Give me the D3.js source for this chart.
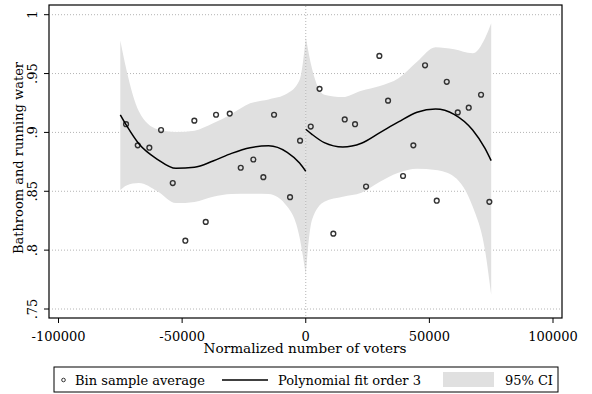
<!DOCTYPE html>
<meta charset="utf-8">
<title>RD plot</title>
<style>
  body { margin: 0; background: #fff; }
  text { font-family: "DejaVu Serif", serif; fill: #000; }
</style>
<svg width="592" height="394"></svg>
<script src="https://d3js.org/d3.v7.min.js"></script>
<script>

// bin averages (x = normalized voters, y = share)
var binX = [-72680, -67950, -63260, -58520, -53790, -48700, -45060, -40450, -36280, -30740,
            -26290, -21190, -17150, -12820, -6350, -2300,
            2020, 5580, 11160, 15770, 19940, 24390, 29770, 33290, 39350, 43520,
            48250, 52980, 57030, 61480, 65920, 70900, 74260];
var binY = [.907, .889, .887, .902, .857, .808, .910, .824, .915, .916,
            .870, .877, .862, .915, .845, .893,
            .905, .937, .814, .911, .907, .854, .965, .927, .863, .889,
            .957, .842, .943, .917, .921, .932, .841];

// fitted polynomial + CI (left of cutoff)
var leftX  = [-75000, -72500, -67500, -60000, -52500, -45000, -37500, -30000, -22500, -15000, -7500, -2500, 0];
var leftFit = [.915, .906, .8904, .8772, .8695, .8704, .8757, .8822, .887, .8887, .8831, .874, .867];
var leftHi = [.978, .953, .918, .9027, .9004, .9015, .9077, .9157, .9247, .928, .933, .9445, .980];
var leftLo = [.851, .855, .857, .850, .840, .841, .8454, .8477, .848, .8477, .837, .811, .779];

// right of cutoff
var rightX  = [0, 2500, 7500, 15000, 22500, 30000, 37500, 45000, 52500, 60000, 67500, 72500, 75000];
var rightFit = [.9027, .8984, .8913, .8876, .8908, .8998, .9089, .9171, .9199, .9154, .9021, .8865, .876];
var rightHi = [.981, .9545, .932, .930, .9354, .9394, .946, .960, .9723, .9706, .9672, .980, .9927];
var rightLo = [.780, .8256, .8411, .8454, .8488, .8581, .8658, .8692, .868, .8624, .837, .800, .762];

var xTicks = [-100000, -50000, 0, 50000, 100000];
var yTicks = [.75, .8, .85, .9, .95, 1];
var yTickLabels = [".75", ".8", ".85", ".9", ".95", "1"];

var svg = d3.select("svg");

var x = d3.scaleLinear().domain([-100000, 100000]).range([58.5, 553]);
var y = d3.scaleLinear().domain([0.75, 1]).range([309, 14.7]);

var plotL = 49, plotR = 562, plotT = 5, plotB = 318;

// grid
svg.append("g").selectAll("line")
  .data(yTicks)
  .enter().append("line")
    .attr("x1", plotL + 3).attr("x2", plotR - 2)
    .attr("y1", function(d) { return y(d); })
    .attr("y2", function(d) { return y(d); })
    .attr("stroke", "#b4b4b4")
    .attr("stroke-width", 1)
    .attr("stroke-dasharray", "1,2");

function seg(xs, fit, hi, lo) {
  var rows = xs.map(function(v, i) { return {x: v, f: fit[i], h: hi[i], l: lo[i]}; });
  var area = d3.area()
    .x(function(d) { return x(d.x); })
    .y0(function(d) { return y(d.l); })
    .y1(function(d) { return y(d.h); })
    .curve(d3.curveMonotoneX);
  svg.append("path")
    .attr("d", area(rows))
    .attr("fill", "#e0e0e0");
  return rows;
}

var leftRows = seg(leftX, leftFit, leftHi, leftLo);
var rightRows = seg(rightX, rightFit, rightHi, rightLo);

// cutoff line
svg.append("line")
  .attr("x1", x(0)).attr("x2", x(0))
  .attr("y1", plotT + 1).attr("y2", plotB)
  .attr("stroke", "#b4b4b4")
  .attr("stroke-dasharray", "1,2");

// bins
svg.append("g").selectAll("circle")
  .data(binX)
  .enter().append("circle")
    .attr("cx", function(d) { return x(d); })
    .attr("cy", function(d, i) { return y(binY[i]); })
    .attr("r", 2.4)
    .attr("fill", "none")
    .attr("stroke", "#333")
    .attr("stroke-width", 1.4);

var line = d3.line()
  .x(function(d) { return x(d.x); })
  .y(function(d) { return y(d.f); })
  .curve(d3.curveMonotoneX);

[leftRows, rightRows].forEach(function(r) {
  svg.append("path")
    .attr("d", line(r))
    .attr("fill", "none")
    .attr("stroke", "#000")
    .attr("stroke-width", 1.5);
});

// frame
svg.append("rect")
  .attr("x", plotL).attr("y", plotT)
  .attr("width", plotR - plotL).attr("height", plotB - plotT)
  .attr("fill", "none")
  .attr("stroke", "#000")
  .attr("stroke-width", 1.2);

// x axis
var xg = svg.append("g");
xg.selectAll("line")
  .data(xTicks)
  .enter().append("line")
    .attr("x1", function(d) { return x(d); })
    .attr("x2", function(d) { return x(d); })
    .attr("y1", plotB).attr("y2", plotB + 5)
    .attr("stroke", "#000");
xg.selectAll("text")
  .data(xTicks)
  .enter().append("text")
    .attr("x", function(d) { return x(d); })
    .attr("y", 341)
    .attr("text-anchor", "middle")
    .style("font-size", "13px")
    .text(function(d) { return d; });

svg.append("text")
  .attr("x", 305).attr("y", 353)
  .attr("text-anchor", "middle")
  .style("font-size", "13.6px")
  .text("Normalized number of voters");

// y axis
var yg = svg.append("g");
yg.selectAll("line")
  .data(yTicks)
  .enter().append("line")
    .attr("x1", plotL - 5).attr("x2", plotL)
    .attr("y1", function(d) { return y(d); })
    .attr("y2", function(d) { return y(d); })
    .attr("stroke", "#000");
yg.selectAll("text")
  .data(yTicks)
  .enter().append("text")
    .attr("transform", function(d) { return "translate(37," + y(d) + ")rotate(-90)"; })
    .attr("text-anchor", "middle")
    .style("font-size", "13px")
    .text(function(d, i) { return yTickLabels[i]; });

svg.append("text")
  .attr("transform", "translate(23," + 158 + ")rotate(-90)")
  .attr("text-anchor", "middle")
  .style("font-size", "13px")
  .text("Bathroom and running water");

// legend
var lg = svg.append("g");
lg.append("rect")
  .attr("x", 54).attr("y", 367)
  .attr("width", 504).attr("height", 25)
  .attr("fill", "#fff")
  .attr("stroke", "#000")
  .attr("stroke-width", 1);
lg.append("circle")
  .attr("cx", 63.5).attr("cy", 380)
  .attr("r", 1.8)
  .attr("fill", "none")
  .attr("stroke", "#333")
  .attr("stroke-width", 1);
lg.append("text").attr("x", 75).attr("y", 385).style("font-size", "13px").text("Bin sample average");
lg.append("line")
  .attr("x1", 222).attr("x2", 268)
  .attr("y1", 380).attr("y2", 380)
  .attr("stroke", "#000").attr("stroke-width", 1.5);
lg.append("text").attr("x", 278).attr("y", 385).style("font-size", "13px").text("Polynomial fit order 3");
lg.append("rect")
  .attr("x", 443).attr("y", 372)
  .attr("width", 51).attr("height", 15)
  .attr("fill", "#e0e0e0");
lg.append("text").attr("x", 553).attr("y", 385).attr("text-anchor", "end").style("font-size", "13px").text("95% CI");

</script>
